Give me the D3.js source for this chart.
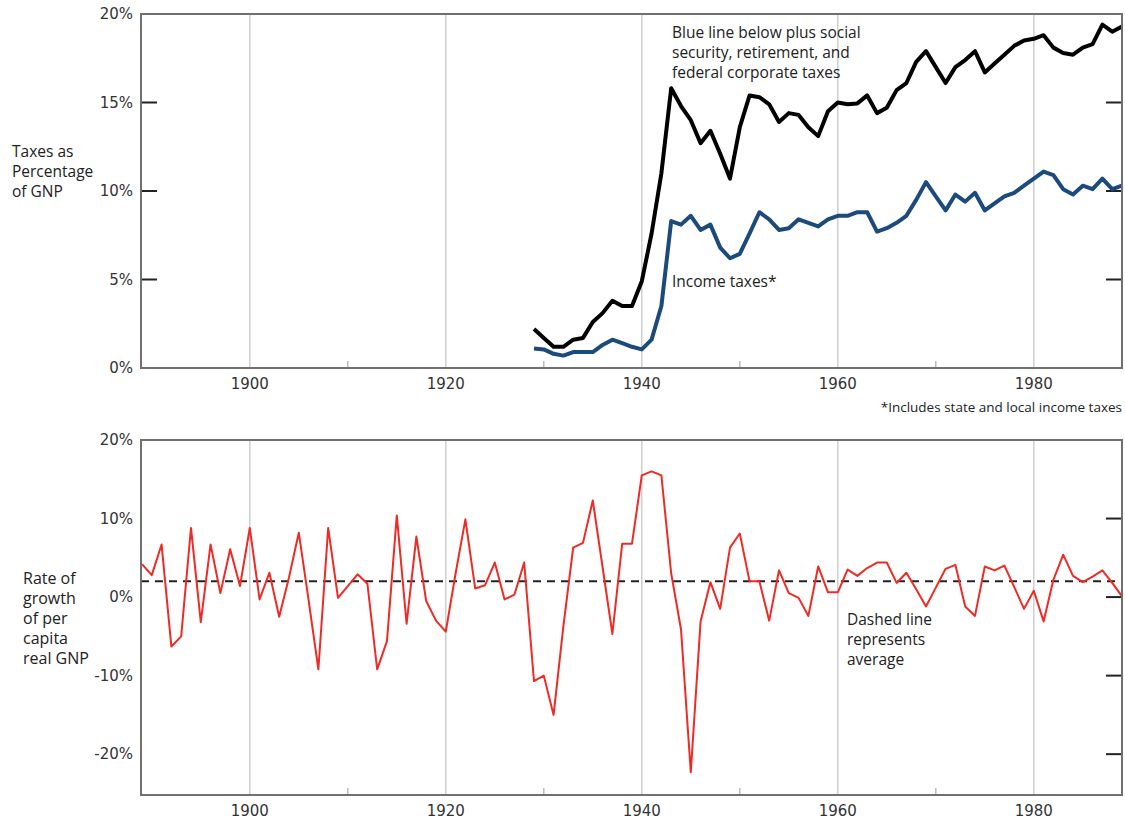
<!DOCTYPE html>
<html>
<head>
<meta charset="utf-8">
<script src="https://cdn.jsdelivr.net/npm/d3@7"></script>
<style>
  body { margin: 0; background: #fff; }
  svg { display: block; }
  .tick-label { font-family: "DejaVu Sans", sans-serif; font-size: 15px; fill: #333; }
  .note { font-family: "Open Sans", sans-serif; font-size: 15.5px; fill: #222; }
</style>
</head>
<body>
<div id="chart"></div>
<script>
// tax shares, 1929-1989
var taxYears = d3.range(1929, 1990);
var totalTaxes = [2.2, 1.7, 1.2, 1.2, 1.6, 1.7, 2.6, 3.1, 3.8, 3.5, 3.5, 4.9, 7.6, 11.0, 15.8, 14.8, 14.0, 12.7, 13.4, 12.1,
  10.7, 13.6, 15.4, 15.3, 14.9, 13.9, 14.4, 14.3, 13.6, 13.1, 14.5, 15.0, 14.9, 14.95, 15.4, 14.4, 14.7, 15.7, 16.1, 17.3,
  17.9, 17.0, 16.1, 17.0, 17.4, 17.9, 16.7, 17.2, 17.7, 18.2, 18.5, 18.6, 18.8, 18.1, 17.8, 17.7, 18.1, 18.3, 19.4, 19.0, 19.3];
var incomeTaxes = [1.1, 1.05, 0.8, 0.7, 0.9, 0.9, 0.9, 1.3, 1.6, 1.4, 1.2, 1.05, 1.6, 3.5, 8.3, 8.1, 8.6, 7.8, 8.1, 6.8,
  6.2, 6.45, 7.6, 8.8, 8.4, 7.8, 7.9, 8.4, 8.2, 8.0, 8.4, 8.6, 8.6, 8.8, 8.8, 7.7, 7.9, 8.2, 8.6, 9.5,
  10.5, 9.7, 8.9, 9.8, 9.4, 9.9, 8.9, 9.3, 9.7, 9.9, 10.3, 10.7, 11.1, 10.9, 10.1, 9.8, 10.3, 10.1, 10.7, 10.1, 10.3];

// growth of per capita real GNP, 1889-1989
var growthYears = d3.range(1889, 1990);
var growth = [4.2, 2.8, 6.7, -6.3, -5.0, 8.8, -3.2, 6.7, 0.5, 6.1, 1.4, 8.8, -0.3, 3.1, -2.5, 2.5, 8.2, -0.4, -9.2, 8.8,
  -0.1, 1.4, 2.9, 1.7, -9.2, -5.6, 10.4, -3.4, 7.7, -0.5, -3.0, -4.4, 3.0, 9.9, 1.1, 1.5, 4.4, -0.3, 0.3, 4.4,
  -10.7, -10.0, -15.0, -3.7, 6.3, 6.9, 12.3, 3.8, -4.7, 6.8, 6.8, 15.5, 16.0, 15.5, 3.0, -4.1, -22.3, -3.1, 1.9, -1.5,
  6.3, 8.1, 2.0, 2.0, -3.0, 3.4, 0.5, -0.1, -2.4, 3.9, 0.6, 0.6, 3.5, 2.7, 3.7, 4.4, 4.4, 1.8, 3.1, 1.0,
  -1.2, 1.2, 3.6, 4.1, -1.2, -2.4, 3.9, 3.4, 4.0, 1.3, -1.5, 0.8, -3.1, 2.2, 5.4, 2.7, 1.9, 2.6, 3.4, 1.8, 0.1];
var growthAverage = 2.0;

var gridYears = [1900, 1920, 1940, 1960, 1980];
var minorYears = [1910, 1930, 1950, 1970];
var topTicks = [0, 5, 10, 15, 20];
var topInnerTicks = [5, 10, 15];
var bottomTicks = [-20, -10, 0, 10, 20];
var bottomInnerTicks = [-20, -10, 0, 10];

var W = 1125, H = 820;
var svg = d3.select('#chart').append('svg').attr('width', W).attr('height', H);

var x = d3.scaleLinear().domain([1888.9, 1989]).range([141, 1122]);
var yTop = d3.scaleLinear().domain([0, 20]).range([368, 14]);
var yBot = d3.scaleLinear().domain([-25.2, 20]).range([795, 440]);

function panel(y, ticks, leftTicks, rightTicks, id) {
  var g = svg.append('g');
  var y0 = y.range()[0], y1 = y.range()[1];

  g.append('clipPath').attr('id', id).append('rect')
    .attr('x', x.range()[0]).attr('y', y1)
    .attr('width', x.range()[1] - x.range()[0]).attr('height', y0 - y1);

  // gridlines
  g.selectAll('.grid').data(gridYears).enter().append('line')
    .attr('x1', d => x(d)).attr('x2', d => x(d))
    .attr('y1', y1).attr('y2', y0)
    .attr('stroke', '#cfcfcf').attr('stroke-width', 1.5);

  g.selectAll('.minor').data(minorYears).enter().append('line')
    .attr('x1', d => x(d)).attr('x2', d => x(d))
    .attr('y1', y0).attr('y2', y0 - 7)
    .attr('stroke', '#bbb').attr('stroke-width', 1.5);

  // inner ticks
  g.selectAll('.lt').data(leftTicks).enter().append('line')
    .attr('x1', x.range()[0]).attr('x2', x.range()[0] + 16)
    .attr('y1', d => y(d)).attr('y2', d => y(d))
    .attr('stroke', '#222').attr('stroke-width', 2);
  g.selectAll('.rt').data(rightTicks).enter().append('line')
    .attr('x1', x.range()[1] - 16).attr('x2', x.range()[1])
    .attr('y1', d => y(d)).attr('y2', d => y(d))
    .attr('stroke', '#222').attr('stroke-width', 2);

  // tick labels
  g.selectAll('.yl').data(ticks).enter().append('text')
    .attr('class', 'tick-label')
    .attr('x', 133).attr('y', d => y(d)).attr('dy', '0.35em')
    .attr('text-anchor', 'end')
    .text(d => d + '%');
  g.selectAll('.xl').data(gridYears).enter().append('text')
    .attr('class', 'tick-label')
    .attr('x', d => x(d)).attr('y', y0 + 21)
    .attr('text-anchor', 'middle')
    .text(d => d);

  return g;
}

function frame(y) {
  svg.append('rect')
    .attr('x', x.range()[0]).attr('y', y.range()[1])
    .attr('width', x.range()[1] - x.range()[0]).attr('height', y.range()[0] - y.range()[1])
    .attr('fill', 'none').attr('stroke', '#707070').attr('stroke-width', 2);
}

// TOP PANEL
var topPanel = panel(yTop, topTicks, topInnerTicks, topInnerTicks, 'clipTop');
var lineTop = d3.line().x(d => x(d[0])).y(d => yTop(d[1]));

topPanel.append('path')
  .attr('d', lineTop(d3.zip(taxYears, incomeTaxes)))
  .attr('fill', 'none').attr('stroke', '#1b4a7c').attr('stroke-width', 4)
  .attr('stroke-linejoin', 'round').attr('clip-path', 'url(#clipTop)');
topPanel.append('path')
  .attr('d', lineTop(d3.zip(taxYears, totalTaxes)))
  .attr('fill', 'none').attr('stroke', '#000').attr('stroke-width', 4)
  .attr('stroke-linejoin', 'round').attr('clip-path', 'url(#clipTop)');
frame(yTop);

var yTitle = svg.append('text').attr('class', 'note').attr('x', 12).attr('y', 157);
['Taxes as', 'Percentage', 'of GNP'].forEach((t, i) => {
  yTitle.append('tspan').attr('x', 12).attr('dy', i ? 20 : 0).text(t);
});

var ann = svg.append('text').attr('class', 'note').attr('x', 672).attr('y', 38);
['Blue line below plus social', 'security, retirement, and', 'federal corporate taxes'].forEach((t, i) => {
  ann.append('tspan').attr('x', 672).attr('dy', i ? 20 : 0).text(t);
});
svg.append('text').attr('class', 'note').attr('x', 672).attr('y', 287).text('Income taxes*');
svg.append('text').attr('class', 'note').attr('x', 1122).attr('y', 412)
  .attr('text-anchor', 'end').style('font-size', '13.5px')
  .text('*Includes state and local income taxes');

// BOTTOM PANEL
var botPanel = panel(yBot, bottomTicks, [], bottomInnerTicks, 'clipBot');
var lineBot = d3.line().x(d => x(d[0])).y(d => yBot(d[1]));

botPanel.append('path')
  .attr('d', `M ${x.range()[0]} ${yBot(growthAverage)} H ${x.range()[1]}`)
  .attr('stroke', '#222').attr('stroke-width', 2).style('stroke-dasharray', '8, 6');
botPanel.append('path')
  .attr('d', lineBot(d3.zip(growthYears, growth)))
  .attr('fill', 'none').attr('stroke', '#ee2b24').attr('stroke-width', 2)
  .attr('stroke-linejoin', 'round').attr('clip-path', 'url(#clipBot)');
frame(yBot);

var yTitle2 = svg.append('text').attr('class', 'note').style('font-size', '16px').attr('x', 23).attr('y', 584);
['Rate of', 'growth', 'of per', 'capita', 'real GNP'].forEach((t, i) => {
  yTitle2.append('tspan').attr('x', 23).attr('dy', i ? 20 : 0).text(t);
});

var ann2 = svg.append('text').attr('class', 'note').attr('x', 847).attr('y', 625);
['Dashed line', 'represents', 'average'].forEach((t, i) => {
  ann2.append('tspan').attr('x', 847).attr('dy', i ? 20 : 0).text(t);
});
</script>
</body>
</html>
